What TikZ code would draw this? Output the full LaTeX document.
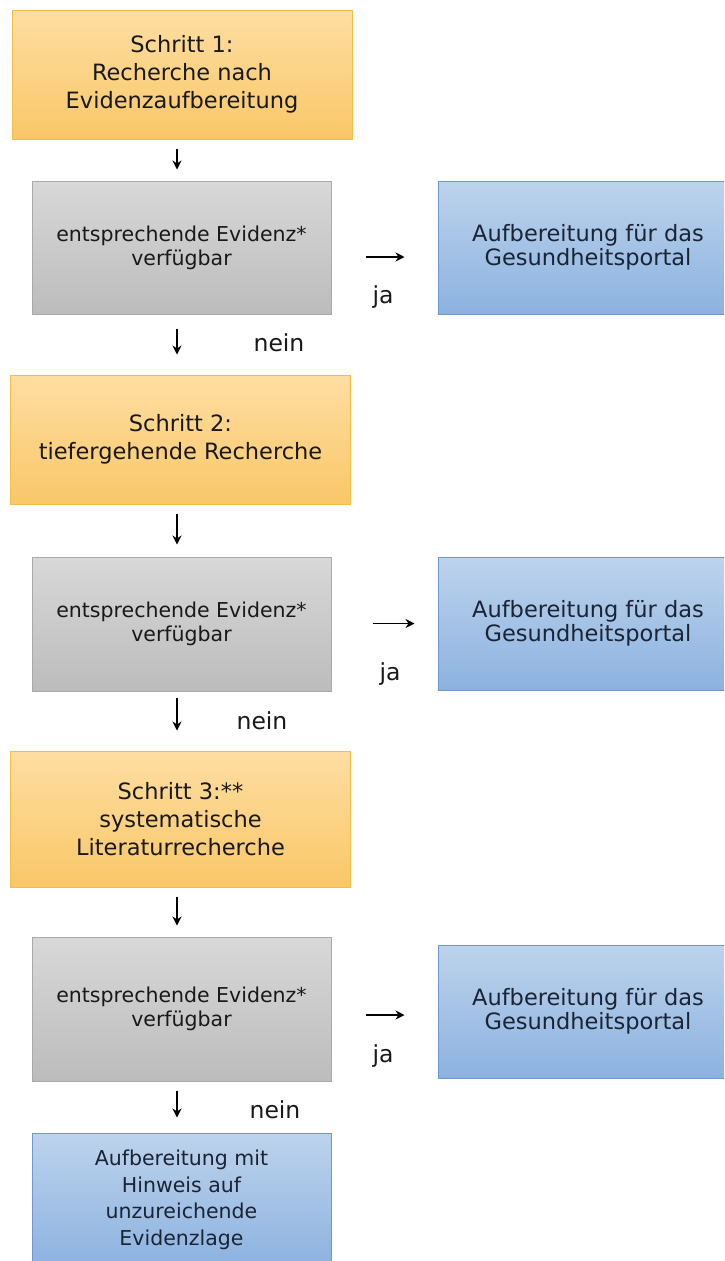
\documentclass[tikz,border=0pt]{standalone}
\usepackage{fontspec}
\setmainfont{DejaVu Sans}
\usepackage{xcolor}
\usetikzlibrary{arrows.meta}

\definecolor{steptop}{HTML}{FEDEA2}
\definecolor{stepbot}{HTML}{F9C768}
\definecolor{stepline}{HTML}{F2BE45}
\definecolor{evtop}{HTML}{D8D8D8}
\definecolor{evbot}{HTML}{BCBCBC}
\definecolor{evline}{HTML}{A9A9A9}
\definecolor{outtop}{HTML}{BDD3EC}
\definecolor{outbot}{HTML}{8CB2E0}
\definecolor{outline}{HTML}{6F98CE}
\definecolor{outtext}{HTML}{1A2434}

\begin{document}
\begin{tikzpicture}[x=1pt, y=1pt,
    stepbox/.style={draw=stepline, line width=1pt, top color=steptop, bottom color=stepbot,
      minimum width=340pt, minimum height=129pt, align=center, text=black!90,
      font=\fontsize{22.5}{28}\selectfont, inner sep=0pt},
    evbox/.style={draw=evline, line width=1pt, top color=evtop, bottom color=evbot,
      minimum width=299pt, minimum height=133pt, align=center, text=black!90,
      font=\fontsize{20.5}{24}\selectfont, inner sep=0pt},
    outbox/.style={draw=outline, line width=1pt, top color=outtop, bottom color=outbot,
      minimum width=300pt, minimum height=133pt, align=center, text=outtext,
      font=\fontsize{22.5}{24}\selectfont, inner sep=0pt},
    arr/.style={-{Stealth[length=9pt, width=9pt]}, line width=1.4pt},
    lbl/.style={font=\fontsize{23.5}{26}\selectfont, text=black!90}]
      \clip (0,0) rectangle (724,-1261);
      \fill[white] (0,0) rectangle (724,-1261);

      % Schritt 1
      \node[stepbox] (s1) at (182, -74.5){Schritt 1:\\Recherche nach\\Evidenzaufbereitung};
      \node[evbox] (e1) at (181.5, -247.5){entsprechende Evidenz*\\verfügbar};
      \node[outbox] (o1) at (588, -247.5){Aufbereitung für das\\Gesundheitsportal};

      % Schritt 2
      \node[stepbox] (s2) at (180.5, -439.5){Schritt 2:\\tiefergehende Recherche};
      \node[evbox, minimum height=134pt] (e2) at (181.5, -624){entsprechende Evidenz*\\verfügbar};
      \node[outbox] (o2) at (588, -623.5){Aufbereitung für das\\Gesundheitsportal};

      % Schritt 3
      \node[stepbox, minimum height=136pt] (s3) at (180.5, -819){Schritt 3:**\\systematische\\Literaturrecherche};
      \node[evbox, minimum height=144pt] (e3) at (181.5, -1009){entsprechende Evidenz*\\verfügbar};
      \node[outbox] (o3) at (588, -1011.5){Aufbereitung für das\\Gesundheitsportal};

      \node[outbox, minimum width=299pt, minimum height=134pt, font=\fontsize{20.5}{26.5}\selectfont]
        (o4) at (181.5, -1200){Aufbereitung mit\\Hinweis auf\\unzureichende\\Evidenzlage};

      % Pfeile nach unten
      \draw[arr, shorten <=9pt, shorten >=11pt] ([xshift=-5pt]s1.south) -- ([xshift=-4.5pt]e1.north);
      \draw[arr, shorten <=14pt, shorten >=20pt] ([xshift=-4.5pt]e1.south) -- ([xshift=-3.5pt]s2.north);
      \draw[arr, shorten <=9pt, shorten >=12pt] ([xshift=-3.5pt]s2.south) -- ([xshift=-4.5pt]e2.north);
      \draw[arr, shorten <=6pt, shorten >=20pt] ([xshift=-4.5pt]e2.south) -- ([xshift=-3.5pt]s3.north);
      \draw[arr, shorten <=9pt, shorten >=11pt] ([xshift=-3.5pt]s3.south) -- ([xshift=-4.5pt]e3.north);
      \draw[arr, shorten <=9pt, shorten >=15pt] ([xshift=-4.5pt]e3.south) -- ([xshift=-4.5pt]o4.north);

      % Pfeile nach rechts
      \draw[arr, shorten <=34pt, shorten >=33pt] ([yshift=-9.5pt]e1.east) -- ([yshift=-9.5pt]o1.west);
      \draw[arr, shorten <=41pt, shorten >=23pt] ([yshift=0.5pt]e2.east) -- ([yshift=0pt]o2.west);
      \draw[arr, shorten <=34pt, shorten >=33pt] ([yshift=-6pt]e3.east) -- ([yshift=-3.5pt]o3.west);

      % ja / nein
      \node[lbl] (j1) at (383, -297){ja};
      \node[lbl] (n1) at (279, -343){nein};
      \node[lbl] (j2) at (390, -674){ja};
      \node[lbl] (n2) at (262, -721){nein};
      \node[lbl] (j3) at (383, -1056){ja};
      \node[lbl] (n3) at (275, -1110){nein};
    \end{tikzpicture}
\end{document}
